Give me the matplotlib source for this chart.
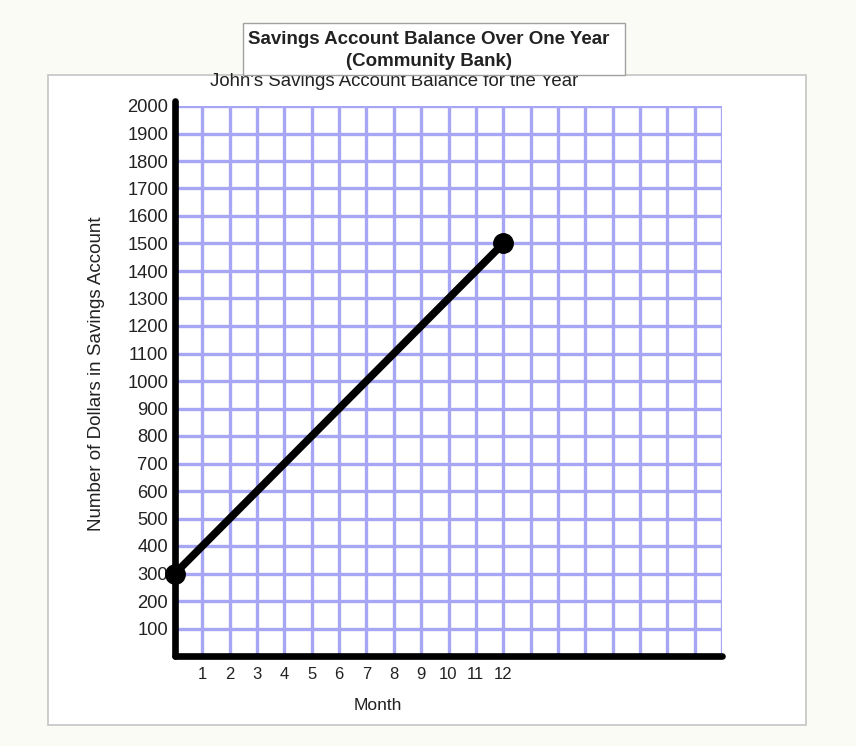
import matplotlib
matplotlib.use("Agg")
from matplotlib import pyplot as plt
from matplotlib.patches import Rectangle

# data
months = [0, 12]
balance = [300, 1500]
x_ticks = list(range(1, 13))
y_ticks = list(range(100, 2001, 100))

plt.rcParams['font.family'] = ['Liberation Sans', 'DejaVu Sans']

fig = plt.figure(figsize=(8.56, 7.46), dpi=100)
fig.patch.set_facecolor('#fbfbf6')

W, H = 856.0, 746.0
txt = '#222222'

# white panel with grey border
fig.patches.append(Rectangle((48 / W, 1 - 725 / H), (806 - 48) / W, (725 - 75) / H,
                             transform=fig.transFigure, facecolor='white',
                             edgecolor='#c4c4c4', lw=1.2, zorder=-10))

ax = fig.add_axes([175 / W, 1 - 656 / H, (722 - 175) / W, (656 - 106) / H])
ax.patch.set_alpha(0)
ax.set_xlim(0, 20)
ax.set_ylim(0, 2000)

grid_col = '#a6a6f4'
for m in range(1, 21):
    ax.axvline(m, color=grid_col, lw=2.4, zorder=1)
for v in y_ticks:
    ax.axhline(v, color=grid_col, lw=2.4, zorder=1)

ax.plot(months, balance, color='black', lw=5.5, marker='o', markersize=14,
        solid_capstyle='round', zorder=5, clip_on=False)

for s in ['top', 'right']:
    ax.spines[s].set_visible(False)
ax.spines['left'].set_linewidth(4.8)
ax.spines['bottom'].set_linewidth(4.8)
ax.spines['left'].set_capstyle('round')
ax.spines['bottom'].set_capstyle('round')
ax.spines['left'].set_bounds(0, 2020)
ax.spines['left'].set_zorder(6)
ax.spines['bottom'].set_zorder(6)

ax.set_xticks(x_ticks)
ax.set_xticklabels([str(t) for t in x_ticks])
ax.set_yticks(y_ticks)
ax.set_yticklabels([str(t) for t in y_ticks])
ax.tick_params(length=0, colors=txt)
ax.tick_params(axis='x', pad=8, labelsize=12)
ax.tick_params(axis='y', pad=5, labelsize=13.2)

# axis labels and subtitle placed in figure pixels
fig.text(378 / W, 1 - 705 / H, 'Month', ha='center', va='center', fontsize=12.5, color=txt)
fig.text(97 / W, 1 - 374 / H, 'Number of Dollars in Savings Account', ha='center', va='center',
         rotation=90, fontsize=13.5, color=txt)
fig.text(394 / W, 1 - 82 / H, "John's Savings Account Balance for the Year",
         ha='center', va='center', fontsize=13.4, color=txt)

# title box (drawn over the top of the subtitle, as in the original)
fig.patches.append(Rectangle((243 / W, 1 - 75 / H), (625 - 243) / W, (75 - 23) / H,
                             transform=fig.transFigure, facecolor='white',
                             edgecolor='#a0a0a0', lw=1, zorder=9))
fig.text(428.5 / W, 1 - 50.5 / H, 'Savings Account Balance Over One Year\n(Community Bank)',
         ha='center', va='center', fontsize=13.5, fontweight='bold', color=txt,
         linespacing=1.4, zorder=10)

fig.savefig('out.png', dpi=100, facecolor=fig.get_facecolor())
